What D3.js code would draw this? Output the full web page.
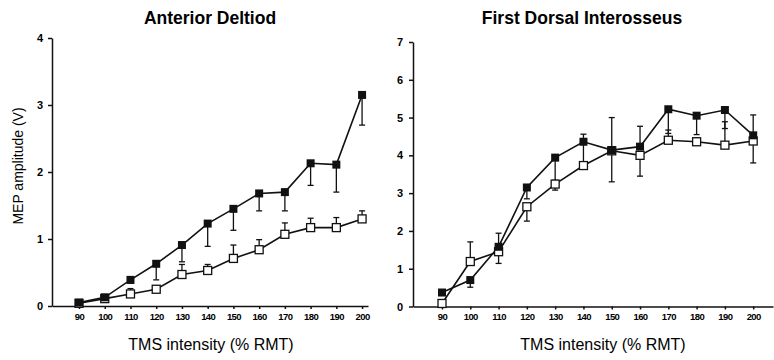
<!DOCTYPE html>
<html>
<head>
<meta charset="utf-8">
<script src="https://cdn.jsdelivr.net/npm/d3@7"></script>
<style>
body { margin: 0; background: #fff; }
svg { font-family: "Liberation Sans", Arial, sans-serif; }
</style>
</head>
<body>
<svg id="chart" width="774" height="360"></svg>
<script>
const intensity = [90, 100, 110, 120, 130, 140, 150, 160, 170, 180, 190, 200];

// Anterior Deltiod
const deltFilled = [0.05, 0.13, 0.39, 0.63, 0.91, 1.23, 1.45, 1.68, 1.70, 2.13, 2.11, 3.15];
const deltFilledErr = [0, 0, -0.05, -0.24, -0.25, -0.34, -0.32, -0.26, -0.28, -0.33, -0.41, -0.45];
const deltOpen = [0.04, 0.11, 0.18, 0.25, 0.47, 0.53, 0.71, 0.84, 1.07, 1.17, 1.17, 1.30];
const deltOpenErr = [0, 0, 0.08, 0, 0.15, 0.09, 0.2, 0.15, 0.17, 0.14, 0.15, 0.12];

// First Dorsal Interosseus
const fdiFilled = [0.37, 0.70, 1.58, 3.15, 3.94, 4.36, 4.14, 4.23, 5.22, 5.05, 5.20, 4.53];
const fdiFilledErr = [0, -0.19, 0.36, -0.3, -0.6, 0.2, 0.86, 0.54, -0.64, -0.5, -0.49, 0.54];
const fdiOpen = [0.08, 1.19, 1.45, 2.64, 3.24, 3.73, 4.12, 4.00, 4.40, 4.36, 4.27, 4.38];
const fdiOpenErr = [0, 0.52, -0.31, -0.38, -0.16, 0.6, -0.82, -0.55, 0.27, 0.1, 0.62, -0.58];

const deltTicks = [0, 1, 2, 3, 4];
const fdiTicks = [0, 1, 2, 3, 4, 5, 6, 7];

const svg = d3.select("#chart");

function drawPanel(opt) {
    const g = svg.append("g");
    const x = d3.scaleLinear().domain(opt.xDomain).range(opt.xRange);
    const y = d3.scaleLinear().domain(opt.yDomain).range(opt.yRange);

    // x axis
    const xa = g.append("g")
        .attr("transform", "translate(0," + opt.yRange[0] + ")")
        .call(d3.axisBottom(x).tickValues(intensity).tickFormat(d3.format("d"))
            .tickSize(3).tickSizeOuter(0).tickPadding(4));
    xa.selectAll("text")
        .style("font-size", "9.5px")
        .style("font-weight", "bold")
        .style("letter-spacing", "-0.6px");

    // y axis
    const ya = g.append("g")
        .attr("transform", "translate(" + opt.xRange[0] + ",0)")
        .call(d3.axisLeft(y).tickValues(opt.yTicks).tickFormat(d3.format("d"))
            .tickSize(4).tickSizeOuter(0).tickPadding(opt.yPad));
    ya.selectAll("text")
        .style("font-size", "11px")
        .style("font-weight", "bold");

    g.selectAll(".domain, .tick line").attr("stroke", "#111").attr("stroke-width", 1.5);

    const line = d3.line().x((d, i) => x(intensity[i])).y(d => y(d));

    // error bars
    function errBars(vals, errs) {
        const eb = g.append("g").attr("stroke", "#111").attr("stroke-width", 1.3);
        intensity.forEach((t, i) => {
            if (!errs[i]) return;
            const y0 = y(vals[i]);
            const y1 = y(vals[i] + errs[i]);
            eb.append("line").attr("x1", x(t)).attr("x2", x(t)).attr("y1", y0).attr("y2", y1);
            eb.append("line").attr("x1", x(t) - 3).attr("x2", x(t) + 3).attr("y1", y1).attr("y2", y1);
        });
    }

    errBars(opt.open, opt.openErr);
    errBars(opt.filled, opt.filledErr);

    g.append("path").datum(opt.open)
        .attr("d", line).attr("fill", "none").attr("stroke", "#111").attr("stroke-width", 1.6);
    g.append("path").datum(opt.filled)
        .attr("d", line).attr("fill", "none").attr("stroke", "#111").attr("stroke-width", 1.6);

    const s = 8;
    g.selectAll(".open").data(opt.open).enter().append("rect")
        .attr("x", (d, i) => x(intensity[i]) - s / 2)
        .attr("y", d => y(d) - s / 2)
        .attr("width", s).attr("height", s)
        .attr("fill", "#fff").attr("stroke", "#111").attr("stroke-width", 1.3);
    g.selectAll(".filled").data(opt.filled).enter().append("rect")
        .attr("x", (d, i) => x(intensity[i]) - s / 2)
        .attr("y", d => y(d) - s / 2)
        .attr("width", s).attr("height", s)
        .attr("fill", "#111");

    // titles
    g.append("text")
        .attr("x", opt.titleX).attr("y", 24)
        .attr("text-anchor", "middle")
        .style("font-size", "17.5px").style("font-weight", "bold")
        .text(opt.title);
    g.append("text")
        .attr("x", opt.xTitleX).attr("y", 350)
        .attr("text-anchor", "middle")
        .style("font-size", "16px")
        .text("TMS intensity (% RMT)");
}

drawPanel({
    title: "Anterior Deltiod", titleX: 210, xTitleX: 211,
    xDomain: [79.5, 202.3], xRange: [52, 368],
    yDomain: [0, 4], yRange: [306, 38], yTicks: deltTicks, yPad: 5,
    filled: deltFilled, filledErr: deltFilledErr,
    open: deltOpen, openErr: deltOpenErr
});

drawPanel({
    title: "First Dorsal Interosseus", titleX: 582, xTitleX: 603,
    xDomain: [79.75, 207], xRange: [413, 773],
    yDomain: [0, 7], yRange: [306.5, 42], yTicks: fdiTicks, yPad: 6,
    filled: fdiFilled, filledErr: fdiFilledErr,
    open: fdiOpen, openErr: fdiOpenErr
});

// y axis title (left panel only)
svg.append("text")
    .attr("transform", "translate(23,166) rotate(-90)")
    .attr("text-anchor", "middle")
    .style("font-size", "14px")
    .text("MEP amplitude (V)");
</script>
</body>
</html>
